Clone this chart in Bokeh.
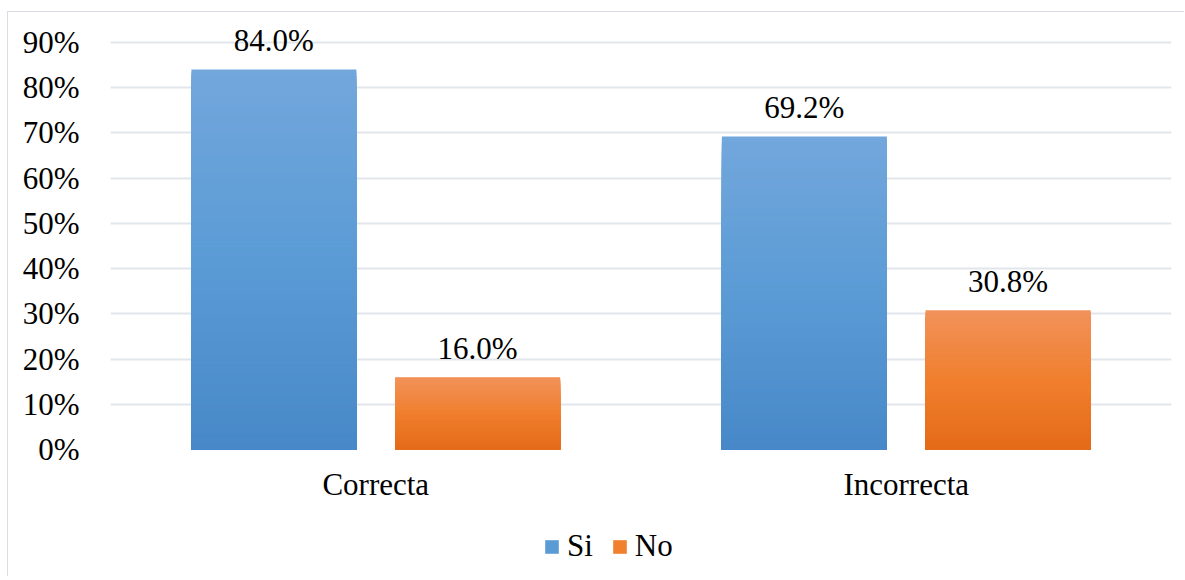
from bokeh.plotting import figure
from bokeh.layouts import column
from bokeh.models import FactorRange, Range1d, FixedTicker, Legend, LegendItem, ColumnDataSource
from bokeh.transform import dodge
from bokeh.embed import file_html
from bokeh.resources import INLINE
from bokeh.core.properties import value

# ---- data ----
categories = ["Correcta", "Incorrecta"]
series_names = ["Si", "No"]
si_values = [84.0, 69.2]
no_values = [16.0, 30.8]
y_ticks = [0, 10, 20, 30, 40, 50, 60, 70, 80, 90]

# ---- style ----
FONT = "Liberation Serif"
FS = "31px"
TEXT = "#000000"
GRID = "#e1e5ec"
blue_stops = ["#72a7dc", "#5b9bd5", "#4788c8"]
orange_stops = ["#f1925b", "#f07f2e", "#e46b18"]
offsets = [-0.192, 0.192]
BAR_W = 0.311
N = 120
W = 1176
Y_TOP = 96.63  # axis headroom above the 90% gridline (room for data labels)


def hex2rgb(h):
    h = h.lstrip("#")
    return tuple(int(h[i:i + 2], 16) for i in (0, 2, 4))


def grad(stops, t):
    # t = 0 at top, 1 at bottom
    a, b, c = [hex2rgb(s) for s in stops]
    if t <= 0.5:
        u = t / 0.5
        p0, p1 = a, b
    else:
        u = (t - 0.5) / 0.5
        p0, p1 = b, c
    r = [round(p0[i] + (p1[i] - p0[i]) * u) for i in range(3)]
    return "#%02x%02x%02x" % tuple(r)


p = figure(
    x_range=FactorRange(*categories, range_padding=0),
    y_range=Range1d(0, Y_TOP),
    width=W, height=498,
    output_backend="svg", toolbar_location=None,
    min_border_left=102, min_border_right=W - 1163, min_border_top=0, min_border_bottom=61,
)
p.outline_line_color = None
p.background_fill_color = "white"
p.border_fill_color = "white"

p.xgrid.grid_line_color = None
p.ygrid.grid_line_color = GRID
p.ygrid.grid_line_width = 2
p.ygrid.ticker = FixedTicker(ticks=y_ticks)

p.yaxis.ticker = FixedTicker(ticks=y_ticks)
p.yaxis.major_label_overrides = {t: f"{t}%" for t in y_ticks}
for ax in (p.xaxis, p.yaxis):
    ax.axis_line_color = None
    ax.major_tick_line_color = None
    ax.minor_tick_line_color = None
    ax.major_tick_out = 0
    ax.major_tick_in = 0
    ax.major_label_text_font = FONT
    ax.major_label_text_font_size = FS
    ax.major_label_text_color = TEXT
p.yaxis.major_label_standoff = 31
p.xaxis.major_label_standoff = 17

# legend figure (separate strip below the chart)
lf = figure(width=W, height=66, output_backend="svg", toolbar_location=None,
            x_axis_type=None, y_axis_type=None, x_range=Range1d(0, 1), y_range=Range1d(0, 1),
            min_border=0)
lf.outline_line_color = None
lf.grid.grid_line_color = None
lf.border_fill_color = "white"

legend_items = []
for name, vals, stops, off in zip(series_names, [si_values, no_values],
                                  [blue_stops, orange_stops], offsets):
    xs, tops, cols = [], [], []
    for cat, v in zip(categories, vals):
        # draw tallest band first so each shorter band paints over it (no seams)
        for i in reversed(range(N)):
            hi = v * (i + 1) / N
            t = 1 - (i + 0.5) / N
            xs.append(cat)
            tops.append(hi)
            cols.append(grad(stops, t))
    src = ColumnDataSource(dict(x=xs, top=tops, color=cols))
    p.vbar(x=dodge("x", off, range=p.x_range), width=BAR_W, bottom=0, top="top",
           fill_color="color", line_color=None, source=src)

    lsrc = ColumnDataSource(dict(x=categories, y=vals, label=[f"{v:.1f}%" for v in vals]))
    p.text(x=dodge("x", off, range=p.x_range), y="y", text="label", source=lsrc,
           text_align="center", text_baseline="alphabetic", y_offset=-29,
           text_font=value(FONT), text_font_size=FS, text_color=TEXT)

    # legend swatch renderer (outside the visible range of the legend strip)
    mid = grad(stops, 0.5)
    lr = lf.quad(left=[-3], right=[-2], bottom=[-3], top=[-2],
                 fill_color=mid, line_color=None)
    legend_items.append(LegendItem(label=name, renderers=[lr]))

legend = Legend(items=legend_items, orientation="horizontal", location=(433, 12))
legend.label_text_font = FONT
legend.label_text_font_size = FS
legend.label_text_color = TEXT
legend.glyph_width = 17
legend.glyph_height = 17
legend.label_standoff = 7
legend.spacing = 18
legend.padding = 0
legend.margin = 0
legend.border_line_color = None
legend.background_fill_alpha = 0
lf.add_layout(legend)

layout = column(p, lf, spacing=0,
                styles={"margin-top": "11px", "margin-left": "7px",
                        "border-top": "1px solid #d9dde3", "border-left": "1px solid #d9dde3"})

open("out.html", "w").write(file_html(layout, INLINE))
